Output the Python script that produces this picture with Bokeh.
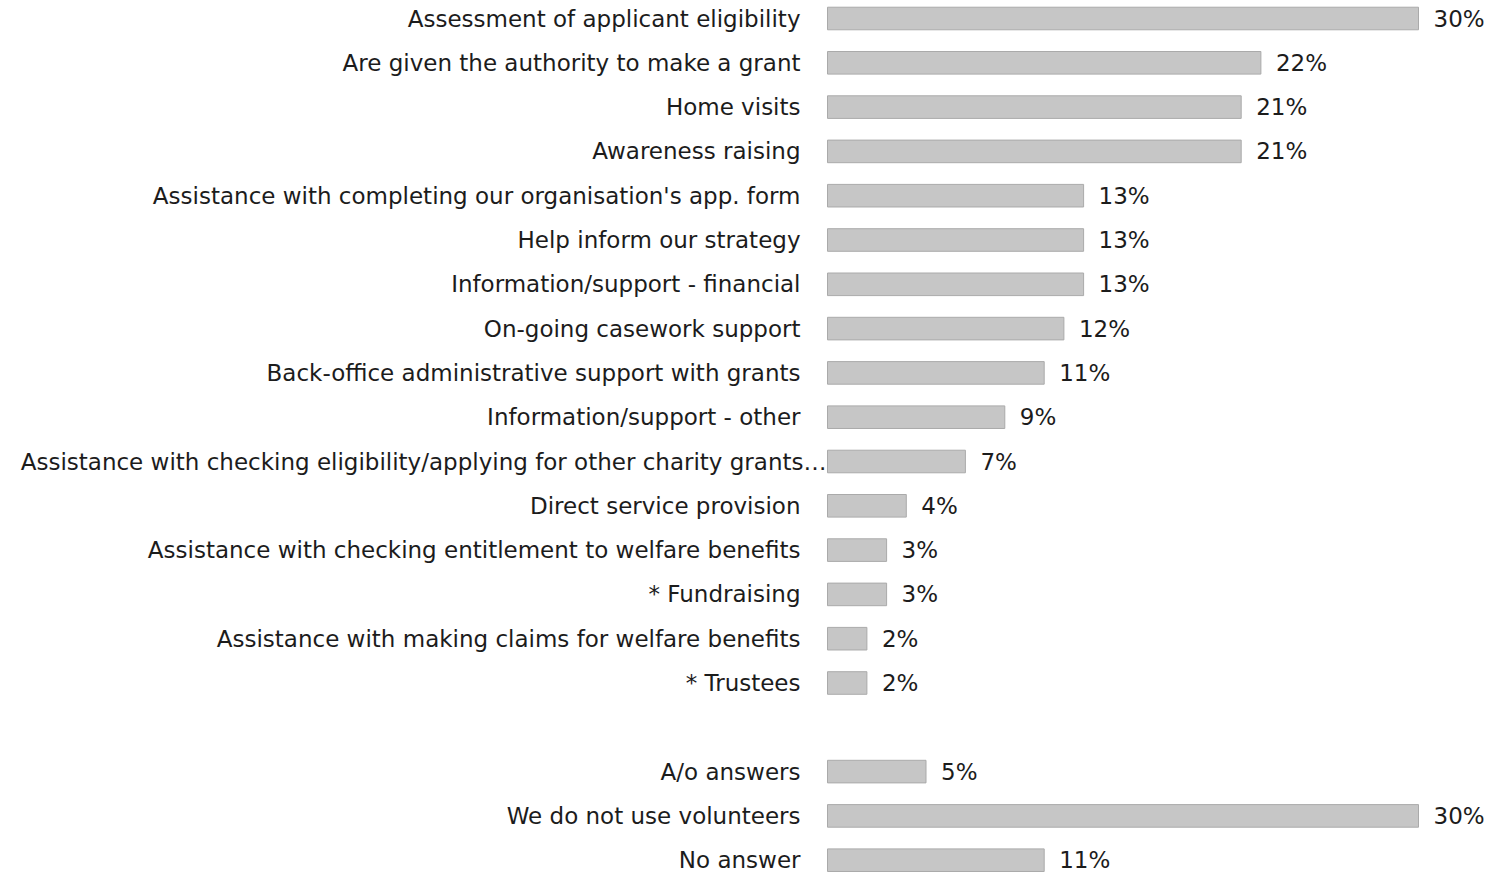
from bokeh.plotting import figure
from bokeh.models import ColumnDataSource, Range1d
from bokeh.embed import file_html
from bokeh.resources import INLINE
from bokeh.core.properties import value

# ---- data -------------------------------------------------------------
categories = [
    "Assessment of applicant eligibility",
    "Are given the authority to make a grant",
    "Home visits",
    "Awareness raising",
    "Assistance with completing our organisation's app. form",
    "Help inform our strategy",
    "Information/support - financial",
    "On-going casework support",
    "Back-office administrative support with grants",
    "Information/support - other",
    "Assistance with checking eligibility/applying for other charity grants\u2026",
    "Direct service provision",
    "Assistance with checking entitlement to welfare benefits",
    "* Fundraising",
    "Assistance with making claims for welfare benefits",
    "* Trustees",
]
values = [30, 22, 21, 21, 13, 13, 13, 12, 11, 9, 7, 4, 3, 3, 2, 2]

other_categories = ["A/o answers", "We do not use volunteers", "No answer"]
other_values = [5, 30, 11]

# ---- layout -----------------------------------------------------------
W, H = 1486, 874
ORIGIN_PX = 827          # pixel position of 0 %
PX_PER_PCT = 19.7
ROW_PX = 44.3
FIRST_ROW_PX = 18
FONT = "DejaVu Sans"
FONT_SIZE = "23px"
TEXT_COLOR = "#1c1c1c"

labels = categories + other_categories
vals = values + other_values
rows = list(range(len(categories))) + [len(categories) + 1 + i for i in range(len(other_categories))]
label_offsets = [-1 if s.endswith("\u2026") else -27 for s in labels]
pct = [f"{v}%" for v in vals]

src = ColumnDataSource(dict(label=labels, value=vals, row=rows, pct=pct, loff=label_offsets))

x_start = -ORIGIN_PX / PX_PER_PCT
x_end = (W - ORIGIN_PX) / PX_PER_PCT
y_top = -FIRST_ROW_PX / ROW_PX
y_bottom = (H - FIRST_ROW_PX) / ROW_PX

p = figure(width=W, height=H, x_range=Range1d(x_start, x_end),
           y_range=Range1d(y_bottom, y_top),
           toolbar_location=None, output_backend="svg", min_border=0)
p.axis.visible = False
p.grid.visible = False
p.outline_line_color = None
p.background_fill_color = "white"
p.border_fill_color = "white"

p.hbar(y="row", left=0, right="value", height=0.51, source=src,
       fill_color="#C6C6C6", line_color="#AAAAAA", line_width=1)

p.text(x="value", y="row", text="pct", source=src, x_offset=15,
       text_align="left", text_baseline="middle",
       text_font=value(FONT), text_font_size=FONT_SIZE, text_color=TEXT_COLOR)

p.text(x=0, y="row", text="label", source=src, x_offset="loff",
       text_align="right", text_baseline="middle",
       text_font=value(FONT), text_font_size=FONT_SIZE, text_color=TEXT_COLOR)

open("out.html", "w").write(file_html(p, INLINE))
